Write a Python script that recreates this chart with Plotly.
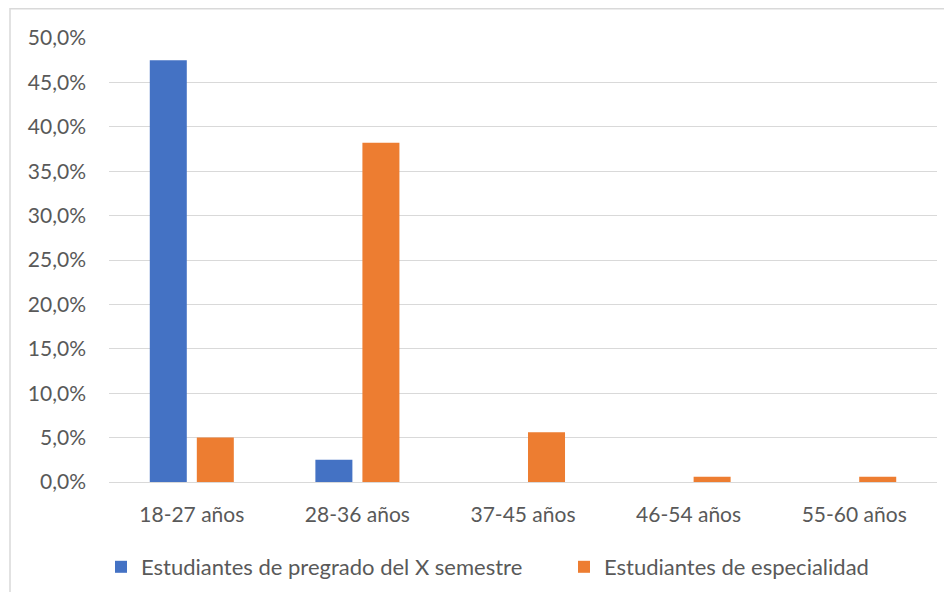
import plotly.graph_objects as go

categories = ["18-27 años", "28-36 años", "37-45 años", "46-54 años", "55-60 años"]
pregrado = [0.475, 0.025, 0.0, 0.0, 0.0]
especialidad = [0.050, 0.382, 0.056, 0.006, 0.006]
series_names = ["Estudiantes de pregrado del X semestre", "Estudiantes de especialidad"]

OFF = 8  # default page body margin
W, H = 952 - 2 * OFF, 600 - 2 * OFF
L, T = 109 - OFF, 38 - OFF
R = W - (937 - OFF)
B = H - (482 - OFF)
pw, ph = W - L - R, H - T - B

def px_x(x):  # page pixel -> paper
    return (x - OFF - L) / pw

def px_y(y):
    return (H - B - (y - OFF)) / ph

font = dict(family="Lato, 'Noto Sans', sans-serif", size=21, color="#595959")
lfont = dict(family="Lato, 'Noto Sans', sans-serif", size=22, color="#595959")

fig = go.Figure()
fig.add_trace(go.Bar(x=categories, y=pregrado, name=series_names[0], legend="legend",
                     marker=dict(color="#4472C4", line=dict(width=0))))
fig.add_trace(go.Bar(x=categories, y=especialidad, name=series_names[1], legend="legend2",
                     marker=dict(color="#ED7D31", line=dict(width=0))))

legend_common = dict(orientation="h", y=px_y(567), yanchor="middle", xanchor="left",
                     font=lfont, itemwidth=30, bgcolor="rgba(0,0,0,0)")

fig.update_layout(
    width=W, height=H,
    margin=dict(l=L, r=R, t=T, b=B, pad=0, autoexpand=False),
    paper_bgcolor="white", plot_bgcolor="white",
    separators=",.",
    barmode="group", bargap=0.432, bargroupgap=0.213,
    font=font,
    showlegend=True,
    legend=dict(x=px_x(101), **legend_common),
    legend2=dict(x=px_x(564), **legend_common),
    xaxis=dict(showgrid=False, showline=False, zeroline=False, ticks="",
               ticklabelstandoff=18, tickfont=font),
    yaxis=dict(range=[0, 0.5], dtick=0.05, tickformat=".1%", showgrid=True,
               gridcolor="#D9D9D9", gridwidth=1, zeroline=True, zerolinecolor="#D9D9D9",
               zerolinewidth=1, showline=False, ticks="", ticklabelstandoff=22, tickfont=font),
    shapes=[
        dict(type="line", xref="paper", yref="paper",
             x0=px_x(10), x1=px_x(10), y0=px_y(650), y1=px_y(8),
             line=dict(color="#D9D9D9", width=1.5), layer="below"),
        dict(type="line", xref="paper", yref="paper",
             x0=px_x(10), x1=px_x(1000), y0=px_y(8.75), y1=px_y(8.75),
             line=dict(color="#D9D9D9", width=1.5), layer="below"),
    ],
)

fig.write_html("out.html")
